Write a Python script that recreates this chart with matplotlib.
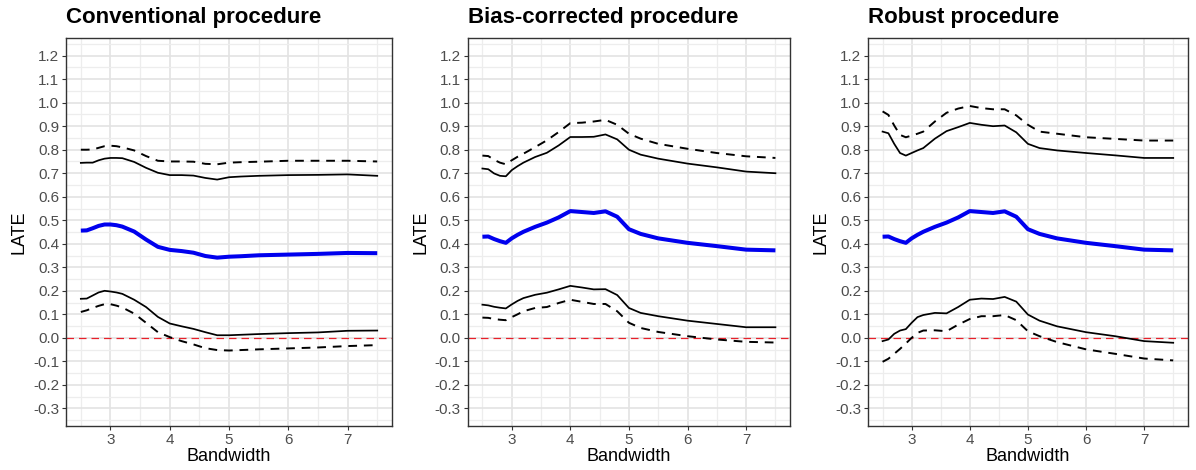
import numpy as np
import matplotlib
matplotlib.use("Agg")
import matplotlib.pyplot as plt

plt.rcParams['font.family'] = ['Liberation Sans', 'DejaVu Sans']

bandwidth = [2.5, 2.6, 2.7, 2.8, 2.9, 3.0, 3.1, 3.2, 3.4, 3.6, 3.8, 4.0,
             4.2, 4.4, 4.6, 4.8, 5.0, 5.2, 5.5, 6.0, 6.5, 7.0, 7.5]

titles = ["Conventional procedure", "Bias-corrected procedure", "Robust procedure"]

# conventional
conv_est = [.456, .457, .466, .476, .482, .482, .479, .473, .452, .418, .387, .374,
            .369, .362, .348, .341, .345, .347, .351, .354, .357, .361, .360]
conv_hi90 = [.744, .745, .745, .755, .762, .765, .765, .764, .748, .723, .702, .692,
             .692, .690, .680, .673, .683, .686, .689, .692, .693, .695, .689]
conv_hi95 = [.800, .800, .801, .808, .815, .817, .815, .810, .797, .773, .753, .750,
             .750, .749, .740, .738, .745, .747, .749, .753, .753, .753, .750]
conv_lo90 = [.166, .167, .180, .193, .200, .197, .193, .187, .162, .131, .089, .061,
             .049, .038, .024, .011, .011, .013, .016, .020, .023, .030, .031]
conv_lo95 = [.110, .117, .127, .136, .143, .143, .137, .129, .103, .064, .024, .003,
             -.014, -.028, -.044, -.052, -.054, -.052, -.049, -.045, -.041, -.035, -.031]

# bias-corrected (point estimate shared with robust)
bc_est = [.430, .431, .420, .411, .404, .423, .438, .451, .472, .490, .512, .539,
          .535, .531, .538, .515, .462, .442, .423, .404, .390, .375, .372]
bc_hi90 = [.720, .717, .699, .689, .687, .713, .730, .745, .769, .787, .818, .854,
           .854, .855, .865, .844, .800, .779, .762, .741, .725, .707, .700]
bc_hi95 = [.775, .773, .757, .745, .738, .755, .770, .783, .811, .840, .875, .913,
           .915, .920, .927, .906, .868, .847, .825, .804, .786, .772, .765]
bc_lo90 = [.141, .138, .132, .128, .125, .142, .157, .169, .183, .192, .206, .221,
           .214, .206, .207, .182, .127, .106, .092, .073, .059, .045, .045]
bc_lo95 = [.086, .085, .080, .077, .075, .088, .100, .113, .127, .131, .148, .162,
           .153, .144, .144, .113, .064, .042, .025, .007, -.007, -.017, -.020]

# robust
rb_hi90 = [.877, .870, .825, .786, .775, .786, .797, .807, .847, .879, .896, .914,
           .906, .900, .903, .874, .825, .807, .797, .786, .776, .765, .765]
rb_hi95 = [.963, .948, .903, .863, .853, .860, .868, .877, .920, .957, .975, .986,
           .977, .972, .972, .946, .906, .877, .868, .853, .846, .839, .839]
rb_lo90 = [-.014, -.007, .017, .031, .037, .064, .088, .097, .106, .104, .131, .162,
           .167, .165, .174, .154, .099, .073, .049, .024, .007, -.014, -.021]
rb_lo95 = [-.102, -.089, -.068, -.047, -.024, .000, .021, .031, .032, .028, .056, .080,
           .092, .092, .097, .075, .028, .007, -.018, -.049, -.068, -.088, -.096]

panels = [
    (conv_est, conv_lo90, conv_hi90, conv_lo95, conv_hi95),
    (bc_est, bc_lo90, bc_hi90, bc_lo95, bc_hi95),
    (bc_est, rb_lo90, rb_hi90, rb_lo95, rb_hi95),
]

yticks = np.round(np.arange(-0.3, 1.21, 0.1), 1)
ylabels = ["%.1f" % (v if v != 0 else 0.0) for v in yticks]

fig = plt.figure(figsize=(11.96, 4.70), dpi=100)
positions = [[0.0552, 0.0936, 0.2726, 0.8255],
             [0.3911, 0.0936, 0.2695, 0.8255],
             [0.7258, 0.0936, 0.2673, 0.8255]]

for pos, title, (est, lo90, hi90, lo95, hi95) in zip(positions, titles, panels):
    ax = fig.add_axes(pos)
    x = np.array(bandwidth)

    ax.axhline(0, color='#E8202A', lw=0.9, ls=(0, (6, 4)), zorder=2)
    ax.plot(x, hi95, color='black', lw=1.4, ls=(0, (4.5, 3.5)), zorder=3)
    ax.plot(x, lo95, color='black', lw=1.4, ls=(0, (4.5, 3.5)), zorder=3)
    ax.plot(x, hi90, color='black', lw=1.25, zorder=3)
    ax.plot(x, lo90, color='black', lw=1.25, zorder=3)
    ax.plot(x, est, color='#0000EE', lw=2.9, zorder=4, solid_capstyle='butt')

    ax.set_xlim(2.25, 7.75)
    ax.set_ylim(-0.375, 1.275)
    ax.set_xticks([3, 4, 5, 6, 7])
    ax.set_xticks([2.5, 3.5, 4.5, 5.5, 6.5, 7.5], minor=True)
    ax.set_yticks(yticks)
    ax.set_yticklabels(ylabels)
    ax.set_yticks(np.arange(-0.35, 1.26, 0.1), minor=True)

    ax.grid(which='major', color='#E3E3E3', lw=1.2, zorder=0)
    ax.grid(which='minor', color='#EDEDED', lw=0.9, zorder=0)
    ax.set_axisbelow(True)

    ax.tick_params(which='major', direction='out', length=3, width=0.8,
                   color='#333333', labelsize=11, labelcolor='#4D4D4D', pad=2)
    ax.tick_params(which='minor', length=0)
    for sp in ax.spines.values():
        sp.set_color('#333333')
        sp.set_linewidth(1.0)

    ax.set_xlabel("Bandwidth", fontsize=13, labelpad=1)
    ax.set_ylabel("LATE", fontsize=13, labelpad=4)
    ax.set_title(title, loc='left', fontsize=16, fontweight='bold', pad=11)

fig.savefig("out.png", dpi=100)
